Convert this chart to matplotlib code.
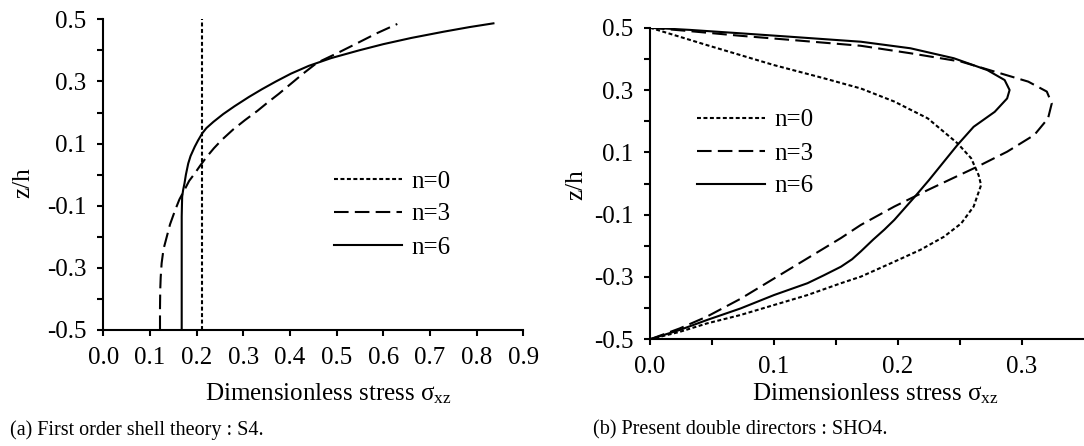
import matplotlib
matplotlib.use("Agg")
import matplotlib.pyplot as plt
from matplotlib.ticker import FixedLocator

plt.rcParams["font.family"] = ["Liberation Serif", "DejaVu Serif"]
plt.rcParams["mathtext.fontset"] = "custom"
plt.rcParams["mathtext.rm"] = "Liberation Serif"
plt.rcParams["mathtext.it"] = "Liberation Serif"
plt.rcParams["axes.unicode_minus"] = False

# ---- (a) first order shell theory : S4 ----
s4_n0_z = [-0.5, 0.5]
s4_n0_s = [0.212, 0.212]

s4_n3_z = [-0.5, -0.43, -0.371, -0.33, -0.285, -0.24, -0.200, -0.16, -0.114,
           -0.08, -0.049, -0.02, 0.004, 0.03, 0.058, 0.085, 0.112, 0.145,
           0.176, 0.205, 0.232, 0.26, 0.29, 0.325, 0.36, 0.39, 0.42, 0.455, 0.485]
s4_n3_s = [0.1215, 0.1215, 0.122, 0.123, 0.125, 0.129, 0.136, 0.143, 0.154,
           0.163, 0.174, 0.184, 0.196, 0.208, 0.222, 0.237, 0.254, 0.278,
           0.304, 0.330, 0.352, 0.376, 0.400, 0.428, 0.458, 0.500, 0.540, 0.586, 0.630]

s4_n6_z = [-0.5, -0.135, -0.1, -0.071, -0.05, -0.028, 0.0, 0.036, 0.06, 0.090,
           0.110, 0.133, 0.150, 0.170, 0.195, 0.220, 0.250, 0.275, 0.300, 0.325,
           0.350, 0.375, 0.400, 0.420, 0.440, 0.460, 0.475, 0.487]
s4_n6_s = [0.168, 0.168, 0.1685, 0.169, 0.171, 0.174, 0.177, 0.182, 0.187, 0.196,
           0.203, 0.212, 0.221, 0.236, 0.257, 0.281, 0.312, 0.340, 0.370, 0.402,
           0.440, 0.488, 0.548, 0.600, 0.660, 0.729, 0.785, 0.836]

# ---- (b) present double directors : SHO4 ----
sho4_n0_z = [0.5, 0.477, 0.444, 0.380, 0.338, 0.305, 0.263, 0.209, 0.129, 0.081,
             0.027, -0.005, -0.074, -0.128, -0.171, -0.213, -0.251, -0.299,
             -0.320, -0.358, -0.390, -0.422, -0.449, -0.476, -0.5]
sho4_n0_s = [0.0, 0.019, 0.046, 0.100, 0.140, 0.170, 0.197, 0.224, 0.248, 0.259,
             0.265, 0.267, 0.261, 0.251, 0.237, 0.218, 0.197, 0.170,
             0.154, 0.127, 0.100, 0.073, 0.046, 0.024, 0.0]

sho4_n3_z = [0.5, 0.489, 0.474, 0.461, 0.442, 0.418, 0.391, 0.359, 0.327, 0.295,
             0.257, 0.209, 0.156, 0.102, 0.054, 0.011, -0.021, -0.074, -0.133,
             -0.175, -0.240, -0.305, -0.370, -0.427, -0.465, -0.5]
sho4_n3_s = [0.0, 0.032, 0.073, 0.113, 0.170, 0.210, 0.251, 0.278, 0.305, 0.320,
             0.324, 0.321, 0.310, 0.288, 0.264, 0.241, 0.224, 0.197, 0.170,
             0.154, 0.127, 0.100, 0.073, 0.046, 0.024, 0.0]

sho4_n6_z = [0.5, 0.493, 0.482, 0.471, 0.455, 0.434, 0.402, 0.364, 0.332, 0.300,
             0.273, 0.230, 0.182, 0.124, 0.070, 0.011, -0.045, -0.117, -0.148,
             -0.180, -0.218, -0.243, -0.267, -0.295, -0.320, -0.358, -0.401,
             -0.438, -0.470, -0.5]
sho4_n6_s = [0.0, 0.032, 0.073, 0.113, 0.170, 0.210, 0.245, 0.272, 0.286, 0.290,
             0.288, 0.278, 0.261, 0.248, 0.237, 0.225, 0.213, 0.197, 0.189,
             0.180, 0.170, 0.163, 0.154, 0.140, 0.127, 0.100, 0.073,
             0.046, 0.024, 0.0]

labels = ["n=0", "n=3", "n=6"]
styles = [(0, (1.9, 1.2)), (0, (7.0, 3.0)), "-"]

x_label = "Dimensionless stress σ$_{\\mathrm{xz}}$"
captions = ["(a) First order shell theory : S4.",
            "(b) Present double directors : SHO4."]

W, H = 1084, 446
fig = plt.figure(figsize=(W / 100, H / 100), dpi=100)

def px_axes(left, top, right, bottom):
    return fig.add_axes([left / W, 1 - bottom / H, (right - left) / W, (bottom - top) / H])

FS = 18
LW = 1.5

def style_axes(ax):
    for side in ("top", "right"):
        ax.spines[side].set_visible(False)
    for side in ("left", "bottom"):
        ax.spines[side].set_linewidth(LW)
    ax.tick_params(which="both", direction="out", length=4, width=LW,
                   labelsize=FS, pad=8)
    ax.set_ylim(-0.5, 0.5)
    ax.yaxis.set_major_locator(FixedLocator([-0.5, -0.3, -0.1, 0.1, 0.3, 0.5]))
    ax.yaxis.set_minor_locator(FixedLocator([-0.4, -0.2, 0.0, 0.2, 0.4]))
    ax.set_yticklabels(["-0.5", "-0.3", "-0.1", "0.1", "0.3", "0.5"])

legend_kw = dict(frameon=False, fontsize=FS, handlelength=2.7, handletextpad=0.4,
                 labelspacing=0.42, borderpad=0, borderaxespad=0,
                 loc="upper left", bbox_transform=fig.transFigure)

# Left panel
ax1 = px_axes(103.3, 19.3, 523.3, 330)
style_axes(ax1)
series1 = [(s4_n0_s, s4_n0_z), (s4_n3_s, s4_n3_z), (s4_n6_s, s4_n6_z)]
for (s, z), ls, lab in zip(series1, styles, labels):
    ax1.plot(s, z, color="black", lw=LW, ls=ls, label=lab)
ax1.set_xlim(0, 0.9)
xt1 = [0.0, 0.1, 0.2, 0.3, 0.4, 0.5, 0.6, 0.7, 0.8, 0.9]
ax1.xaxis.set_major_locator(FixedLocator(xt1))
ax1.set_xticklabels([f"{v:.1f}" for v in xt1])
ax1.set_xlabel(x_label, fontsize=FS)
ax1.xaxis.set_label_coords(0.536, -0.165)
ax1.set_ylabel("z/h", fontsize=FS)
ax1.yaxis.set_label_coords(-0.165, 0.475)
ax1.legend(bbox_to_anchor=(334 / W, 1 - 170 / H), **legend_kw)

# Right panel
ax2 = px_axes(650, 27.7, 1084, 339.3)
style_axes(ax2)
series2 = [(sho4_n0_s, sho4_n0_z), (sho4_n3_s, sho4_n3_z), (sho4_n6_s, sho4_n6_z)]
for (s, z), ls, lab in zip(series2, styles, labels):
    ax2.plot(s, z, color="black", lw=LW, ls=ls, label=lab)
ax2.set_xlim(0, 0.35)
xt2 = [0.0, 0.1, 0.2, 0.3]
ax2.xaxis.set_major_locator(FixedLocator(xt2))
ax2.xaxis.set_minor_locator(FixedLocator([0.05, 0.15, 0.25]))
ax2.set_xticklabels([f"{v:.1f}" for v in xt2])
ax2.set_xlabel(x_label, fontsize=FS)
ax2.xaxis.set_label_coords(0.52, -0.135)
ax2.set_ylabel("z/h", fontsize=FS)
ax2.yaxis.set_label_coords(-0.145, 0.495)
ax2.legend(bbox_to_anchor=(697 / W, 1 - 109 / H), **legend_kw)

fig.text(10 / W, 1 - 430 / H, captions[0], fontsize=14.5, va="center", ha="left")
fig.text(593 / W, 1 - 430 / H, captions[1], fontsize=14.5, va="center", ha="left")

fig.savefig("out.png", dpi=100)
